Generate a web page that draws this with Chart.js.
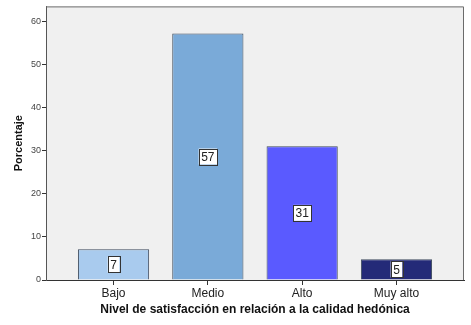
<!DOCTYPE html>
<html>
<head>
<meta charset="utf-8">
<script src="https://cdn.jsdelivr.net/npm/chart.js@4.4.1/dist/chart.umd.min.js"></script>
<style>
  html, body { margin: 0; padding: 0; background: #ffffff; }
  #wrap { width: 471px; height: 325px; }
</style>
</head>
<body>
<div id="wrap"><canvas id="chart" width="471" height="325"></canvas></div>
<script>
// Nivel de satisfacción - calidad hedónica
const categories = ['Bajo', 'Medio', 'Alto', 'Muy alto'];
const percentages = [7.1, 57.1, 31.0, 4.8];
const barLabels = ['7', '57', '31', '5'];
const barColors = ['#a9cbee', '#7aaad8', '#5a5aff', '#242a78'];
const yTicks = [0, 10, 20, 30, 40, 50, 60];

// boxed value label in the middle of each bar
const boxLabels = {
    id: 'boxLabels',
    afterDatasetsDraw(chart) {
        const ctx = chart.ctx;
        const meta = chart.getDatasetMeta(0);
        ctx.save();
        ctx.font = '12px "Liberation Sans", Arial, sans-serif';
        ctx.textAlign = 'center';
        ctx.textBaseline = 'middle';
        meta.data.forEach((bar, i) => {
            const text = barLabels[i];
            const cy = (bar.y + bar.base) / 2;
            const w = ctx.measureText(text).width + 5;
            const h = 16;
            ctx.fillStyle = '#ffffff';
            ctx.fillRect(bar.x - w / 2, cy - h / 2, w, h);
            ctx.strokeStyle = '#333333';
            ctx.lineWidth = 1;
            ctx.strokeRect(Math.round(bar.x - w / 2) + 0.5, Math.round(cy - h / 2) + 0.5, Math.round(w), h);
            ctx.fillStyle = '#222222';
            ctx.fillText(text, bar.x, cy + 1);
        });
        ctx.restore();
    }
};

// plot background and frame
const plotFrame = {
    id: 'plotFrame',
    beforeDraw(chart) {
        const { ctx, chartArea: a } = chart;
        ctx.save();
        ctx.fillStyle = '#f0f0f0';
        ctx.fillRect(a.left, a.top, a.right - a.left, a.bottom - a.top);
        ctx.restore();
    },
    afterDraw(chart) {
        const { ctx, chartArea: a } = chart;
        ctx.save();
        ctx.strokeStyle = '#6b6b6b';
        ctx.lineWidth = 1;
        ctx.beginPath();
        ctx.moveTo(a.left, a.top + 0.5);
        ctx.lineTo(a.right - 0.5, a.top + 0.5);
        ctx.lineTo(a.right - 0.5, a.bottom);
        ctx.stroke();
        ctx.restore();
    }
};

new Chart(document.getElementById('chart'), {
    type: 'bar',
    data: {
        datasets: [{
            data: percentages.map((v, i) => ({ x: i, y: v })),
            backgroundColor: barColors,
            borderColor: '#3d4a5c',
            borderWidth: 1,
            borderSkipped: 'bottom',
            barPercentage: 1,
            categoryPercentage: 0.755
        }]
    },
    options: {
        responsive: false,
        animation: false,
        layout: { padding: { top: 4, right: 7, left: 0, bottom: 0 } },
        plugins: {
            legend: { display: false },
            tooltip: { enabled: false }
        },
        scales: {
            x: {
                type: 'linear',
                offset: false,
                min: -0.716,
                max: 3.716,
                afterBuildTicks(axis) {
                    axis.ticks = categories.map((c, i) => ({ value: i }));
                },
                afterFit(axis) { axis.height = 45; },
                ticks: {
                    callback: (v) => categories[v],
                    color: '#222222',
                    font: { family: '"Liberation Sans", Arial, sans-serif', size: 12 },
                    padding: 1,
                    autoSkip: false,
                    maxRotation: 0
                },
                grid: {
                    display: true,
                    offset: false,
                    drawOnChartArea: false,
                    drawTicks: true,
                    tickLength: 5,
                    color: '#333333'
                },
                border: { color: '#333333', width: 1 },
                title: {
                    display: true,
                    text: 'Nivel de satisfacción en relación a la calidad hedónica',
                    color: '#111111',
                    font: { family: '"Liberation Sans", Arial, sans-serif', size: 12, weight: 'bold' },
                    padding: { top: 0, bottom: 8 }
                }
            },
            y: {
                min: 0,
                max: 63.4,
                afterBuildTicks(axis) {
                    axis.ticks = yTicks.map(v => ({ value: v }));
                },
                afterFit(axis) { axis.width = 46; },
                ticks: {
                    color: '#444444',
                    font: { family: '"Liberation Sans", Arial, sans-serif', size: 9 },
                    padding: 1
                },
                grid: {
                    display: true,
                    drawOnChartArea: false,
                    drawTicks: true,
                    tickLength: 4,
                    color: '#333333'
                },
                border: { color: '#555555', width: 1 },
                title: {
                    display: true,
                    text: 'Porcentaje',
                    color: '#111111',
                    font: { family: '"Liberation Sans", Arial, sans-serif', size: 11, weight: 'bold' },
                    padding: { top: 12, bottom: 0 }
                }
            }
        }
    },
    plugins: [plotFrame, boxLabels]
});
</script>
</body>
</html>
